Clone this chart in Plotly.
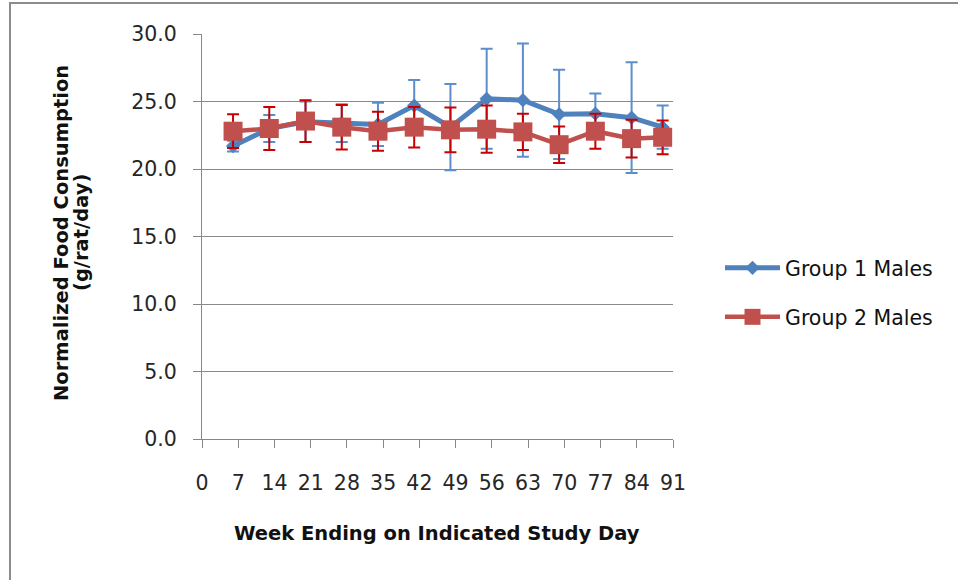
import plotly.graph_objects as go

days = [6, 13, 20, 27, 34, 41, 48, 55, 62, 69, 76, 83, 89]
group1 = [21.7, 23.0, 23.5, 23.4, 23.3, 24.7, 23.1, 25.2, 25.1, 24.05, 24.1, 23.8, 23.1]
group1_err = [0.4, 1.0, 1.5, 1.4, 1.6, 1.9, 3.2, 3.7, 4.2, 3.3, 1.5, 4.1, 1.6]
group2 = [22.8, 23.0, 23.55, 23.1, 22.8, 23.1, 22.9, 22.95, 22.75, 21.8, 22.8, 22.25, 22.35]
group2_err = [1.25, 1.6, 1.55, 1.65, 1.45, 1.5, 1.65, 1.75, 1.35, 1.35, 1.3, 1.4, 1.25]
x_ticks = [0, 7, 14, 21, 28, 35, 42, 49, 56, 63, 70, 77, 84, 91]
y_ticks = [0, 5, 10, 15, 20, 25, 30]

BLUE = "#4F81BD"
RED = "#C0504D"
FONT = "DejaVu Sans"

W, H = 958, 580
L, R, T, B = 202, 673, 34, 439

fig = go.Figure()
fig.add_trace(go.Scatter(
    x=days, y=group1, name="Group 1 Males", mode="lines+markers",
    line=dict(color=BLUE, width=5),
    marker=dict(symbol="diamond", size=11, color=BLUE),
    error_y=dict(type="data", array=group1_err, visible=True,
                 color="#5B8ECB", thickness=2, width=6),
    legend="legend",
))
fig.add_trace(go.Scatter(
    x=days, y=group2, name="Group 2 Males", mode="lines+markers",
    line=dict(color=RED, width=4.5),
    marker=dict(symbol="square", size=19, color=RED),
    error_y=dict(type="data", array=group2_err, visible=True,
                 color="#C80000", thickness=2, width=6),
    legend="legend2",
))

def px_x(p):
    return (p - L) / (R - L)

def px_y(p):
    return (B - p) / (B - T)

legend_font = dict(family=FONT, size=20.5, color="#111111")
tick_font = dict(family=FONT, size=20.5, color="#262626")
title_font = dict(family=FONT, size=19.5, color="#111111", weight="bold")

fig.update_layout(
    width=W, height=H,
    margin=dict(l=L, r=W - R, t=T, b=H - B, autoexpand=False),
    paper_bgcolor="white", plot_bgcolor="white",
    font=dict(family=FONT, size=20, color="#262626"),
    showlegend=True,
    legend=dict(x=px_x(720), y=px_y(268), xanchor="left", yanchor="middle",
                font=legend_font, itemwidth=55, bgcolor="rgba(0,0,0,0)"),
    legend2=dict(x=px_x(720), y=px_y(317), xanchor="left", yanchor="middle",
                 font=legend_font, itemwidth=55, bgcolor="rgba(0,0,0,0)"),
    xaxis=dict(range=[0, 91], tickmode="array", tickvals=x_ticks,
               ticktext=[str(v) for v in x_ticks],
               showgrid=False, zeroline=False,
               showline=True, linecolor="#878787", linewidth=1,
               ticks="outside", ticklen=8, tickcolor="#878787",
               ticklabelstandoff=17, tickfont=tick_font),
    yaxis=dict(range=[0, 30], tickmode="array", tickvals=y_ticks,
               ticktext=[f"{v:.1f}" for v in y_ticks],
               showgrid=True, gridcolor="#8a8a8a", gridwidth=1,
               zeroline=False,
               showline=True, linecolor="#878787", linewidth=1,
               ticks="outside", ticklen=8, tickcolor="#878787",
               ticklabelstandoff=12, tickfont=tick_font),
    annotations=[
        dict(text="Week Ending on Indicated Study Day", xref="paper", yref="paper",
             x=px_x(437), y=px_y(533), xanchor="center", yanchor="middle",
             showarrow=False, font=title_font),
        dict(text="Normalized Food Consumption", xref="paper", yref="paper",
             x=px_x(61), y=px_y(233), xanchor="center", yanchor="middle", textangle=-90,
             showarrow=False, font=title_font),
        dict(text="(g/rat/day)", xref="paper", yref="paper",
             x=px_x(81), y=px_y(233), xanchor="center", yanchor="middle", textangle=-90,
             showarrow=False, font=title_font),
    ],
    shapes=[
        dict(type="line", xref="paper", yref="paper", x0=px_x(10), x1=px_x(10),
             y0=px_y(2), y1=px_y(580), line=dict(color="#8c8c8c", width=2)),
        dict(type="line", xref="paper", yref="paper", x0=px_x(9), x1=px_x(958),
             y0=px_y(3), y1=px_y(3), line=dict(color="#8c8c8c", width=2)),
    ],
)

fig.write_html("out.html", config={"displayModeBar": False},
               post_script="document.body.style.margin='0';document.body.style.overflow='hidden';")
